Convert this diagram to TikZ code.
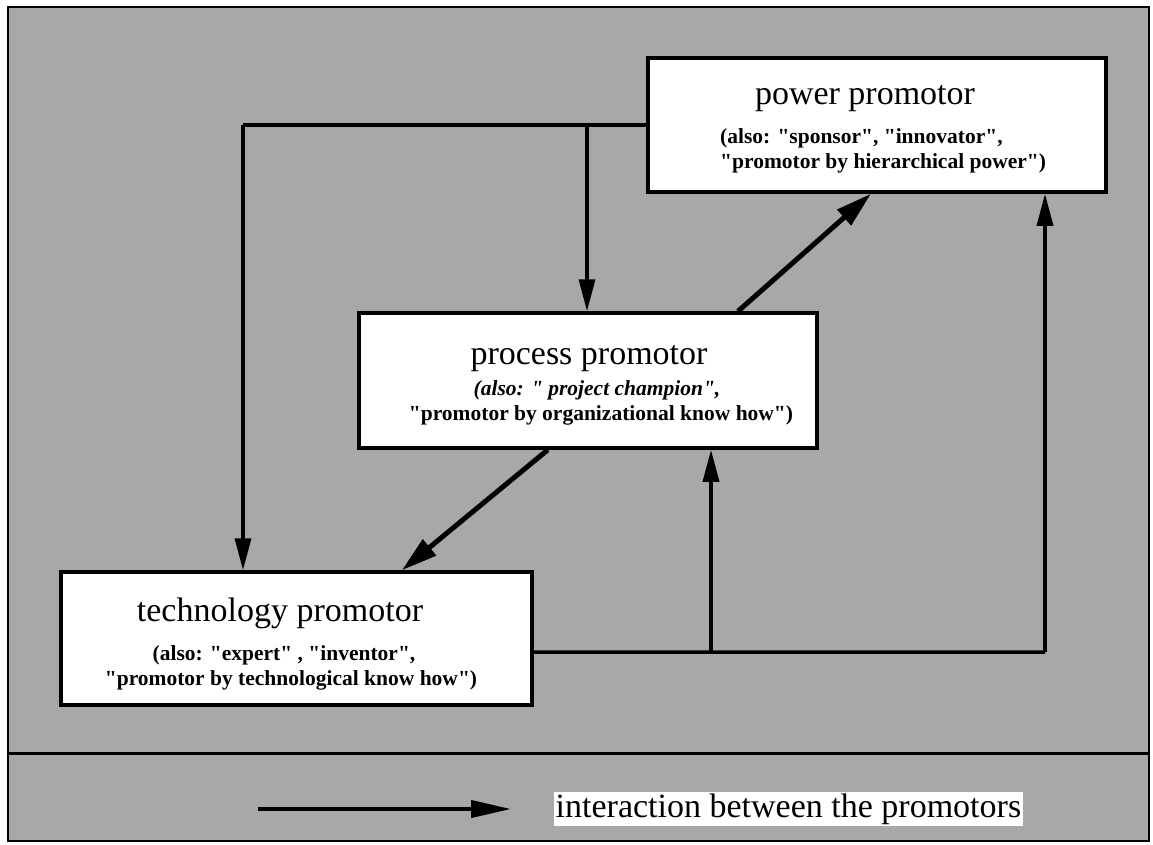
\documentclass[tikz,border=0pt]{standalone}
\usepackage{fontspec}
\setmainfont{Liberation Serif}
\newfontfamily\lserif{Liberation Serif}
\usetikzlibrary{arrows.meta,calc}
\definecolor{halftone}{RGB}{168,168,168}
\newcommand{\ttlfont}{\lserif\fontsize{34}{40}\selectfont}
\newcommand{\subfont}{\lserif\fontsize{21.5}{25}\selectfont\bfseries}
\tikzset{
  box/.style={draw=black, line width=3.5pt, fill=white, inner sep=0pt},
  ttl/.style={inner sep=0pt, font=\ttlfont},
  subt/.style={inner sep=0pt, font=\subfont},
  conn/.style={line width=3.5pt, -{Triangle[length=32pt,width=16pt]}},
  diag/.style={line width=5pt, -{Triangle[length=36pt,width=20pt]}},
  plain/.style={line width=3.5pt},
}
\begin{document}
\begin{tikzpicture}[x=1pt,y=-1pt]
\useasboundingbox (0,0) rectangle (1153,844);
\fill[halftone] (8,7) rectangle (1149,841);
\draw[line width=2.5pt] (8,7) rectangle (1149,841);
\draw[line width=3pt] (8,753) -- (1149,753);

% boxes
\node[box, minimum width=458pt, minimum height=134pt] (power) at (877,125) {};
\node[box, minimum width=458pt, minimum height=135pt] (process) at (588,380.5) {};
\node[box, minimum width=471pt, minimum height=133pt] (tech) at (296.5,638.5) {};

% texts
\node[ttl, anchor=base] (powT) at (865,104) {power promotor};
\node[subt, anchor=base west] (powS1) at (720,143) {(also: "sponsor", "innovator",};
\node[subt, anchor=base west] (powS2) at (720,168) {"promotor by hierarchical power")};

\node[ttl, anchor=base] (proT) at (589,364) {process promotor};
\node[subt, anchor=base] (proS1) at (597,395) {\itshape (also: " project champion",};
\node[subt, anchor=base] (proS2) at (601,420) {"promotor by organizational know how")};

\node[ttl, anchor=base] (tecT) at (280,621) {technology promotor};
\node[subt, anchor=base] (tecS1) at (284,660) {(also: "expert" , "inventor",};
\node[subt, anchor=base] (tecS2) at (291,685) {"promotor by technological know how")};

% connectors
\coordinate (L) at (243,125);
\coordinate (D) at (587,125);
\draw[plain] (power.west) -- (L);
\draw[conn] (L) -- (L |- tech.north);
\draw[conn] (D) -- (D |- process.north);

\draw[diag] ($(process.north west)!0.825!(process.north east)$) -- ($(power.south west)!0.487!(power.south east)$);
\draw[diag] ($(process.south west)!0.413!(process.south east)$) -- ($(tech.north west)!0.722!(tech.north east)$);

\coordinate (R) at (1045,652);
\coordinate (U) at (711,652);
\draw[plain] ($(tech.south east)!0.4!(tech.north east)$) -- (R);
\draw[conn] (R) -- (R |- power.south);
\draw[conn] (U) -- (U |- process.south);

% legend
\coordinate (la) at (258,809);
\coordinate (lb) at (511,809);
\draw[line width=4pt, -{Triangle[length=40pt,width=17pt]}] (la) -- (lb);
\node[ttl, fill=white, inner sep=1.5pt, anchor=base west] (legT) at (554,817) {interaction between the promotors};
\end{tikzpicture}
\end{document}
